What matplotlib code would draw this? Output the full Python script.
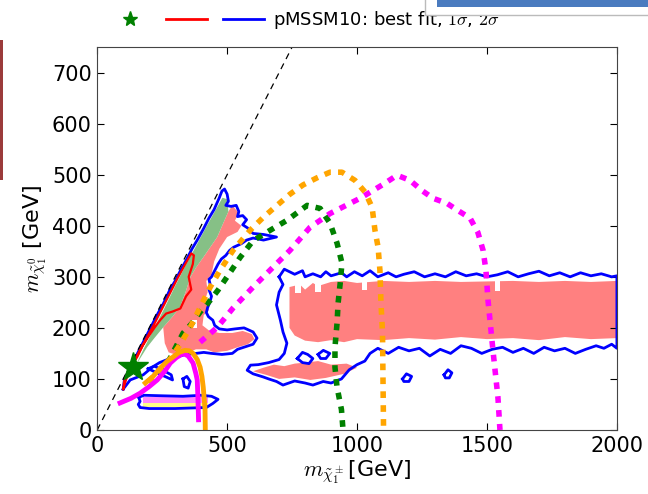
import matplotlib
matplotlib.use("Agg")
import matplotlib.pyplot as plt
from matplotlib.lines import Line2D
from matplotlib.patches import Rectangle

plt.rcParams['mathtext.fontset'] = 'cm'

# --- contours (m_chargino, m_neutralino) in GeV ---

# 2 sigma contour along the diagonal
blue_diag_x = [100, 105, 125, 140, 160, 185, 205, 230, 255, 280, 300, 320, 345, 365, 385, 410, 430, 450, 470, 480,
               490, 500, 505, 495, 515, 535, 545, 540, 560, 575, 560, 578, 600, 640, 690, 640, 600, 575, 555, 525,
               510, 495, 478, 465, 455, 440, 430, 435, 430, 440, 432, 425, 420, 428, 445, 452, 470, 500, 530, 565,
               600, 615, 600, 570, 540, 520, 480, 440, 410, 380, 340, 300, 270, 240, 212, 177, 127, 100]
blue_diag_y = [80, 100, 120, 135, 155, 180, 200, 225, 248, 275, 292, 312, 335, 355, 372, 395, 415, 432, 455, 468,
               472, 462, 448, 440, 438, 440, 428, 418, 420, 412, 402, 396, 385, 383, 378, 372, 376, 372, 365, 358,
               352, 342, 335, 325, 315, 300, 295, 285, 275, 262, 248, 240, 230, 222, 215, 205, 198, 196, 198, 200,
               192, 180, 168, 163, 158, 150, 148, 150, 152, 150, 148, 142, 138, 132, 123, 108, 98, 80]

# 1 sigma contour
red_x = [100, 112, 130, 160, 190, 220, 250, 280, 310, 340, 362, 372, 368, 352, 362, 342, 320, 290, 265, 242,
         220, 196, 175, 154, 130, 115, 104, 100]
red_y = [80, 100, 122, 152, 180, 208, 238, 268, 298, 326, 346, 342, 325, 300, 275, 262, 238, 232, 228, 215,
         200, 182, 165, 143, 125, 111, 96, 80]

# 1 sigma filled band
green_x = [112, 140, 180, 220, 260, 300, 340, 380, 420, 460, 482, 500, 505, 485, 462, 435, 408, 380, 358, 340,
           319, 290, 254, 220, 192, 165, 138, 120, 112]
green_y = [85, 118, 160, 200, 240, 282, 322, 360, 398, 435, 455, 452, 428, 405, 378, 358, 338, 318, 299, 270,
           241, 222, 201, 180, 162, 140, 117, 95, 85]

# 2 sigma filled region next to the diagonal
pink_diag_x = [520, 545, 530, 555, 540, 500, 470, 450, 440, 420, 425, 415, 430, 410, 405, 430, 470, 520, 560,
               595, 605, 580, 540, 500, 450, 420, 380, 340, 300, 275, 260, 254, 290, 319, 340, 358, 380, 408, 435,
               462, 485, 505]
pink_diag_y = [440, 425, 410, 400, 388, 378, 355, 330, 305, 292, 270, 255, 235, 225, 205, 195, 190, 190, 194,
               188, 178, 168, 162, 155, 152, 158, 158, 150, 148, 152, 170, 201, 222, 241, 270, 299, 318, 338, 358,
               378, 405, 428]

# white gaps inside the pink area
hole_x = [[455, 480, 480, 455], [360, 385, 385, 360], [540, 565, 565, 540]]
hole_y = [[240, 240, 262, 262], [200, 200, 215, 215], [350, 350, 368, 368]]

# 2 sigma band at high chargino mass
blue_band_x = [700, 720, 760, 790, 800, 830, 860, 880, 900, 940, 960, 990, 1020, 1050, 1080, 1120, 1150, 1180,
               1220, 1260, 1300, 1340, 1380, 1420, 1460, 1500, 1540, 1580, 1620, 1660, 1700, 1740, 1780, 1820,
               1860, 1900, 1940, 1980, 2000, 2000, 1980, 1950, 1920, 1880, 1840, 1800, 1760, 1720, 1680, 1640,
               1600, 1560, 1520, 1480, 1440, 1400, 1360, 1320, 1280, 1240, 1200, 1160, 1120, 1080, 1050, 1030,
               1000, 970, 940, 900, 870, 830, 800, 760, 715, 690, 660, 638, 600, 577, 590, 620, 660, 700, 720,
               730, 715, 705, 690, 700, 715, 700]
blue_band_y = [300, 315, 305, 312, 300, 306, 300, 310, 302, 308, 300, 310, 302, 312, 300, 308, 300, 305,
               310, 300, 306, 300, 310, 302, 306, 300, 304, 310, 300, 306, 311, 302, 308, 300,
               308, 302, 306, 300, 302, 160, 168, 160, 165, 158, 150, 160, 155, 162, 150, 160,
               152, 162, 158, 150, 160, 165, 150, 158, 145, 160, 155, 162, 150, 160, 150, 135,
               128, 118, 100, 92, 95, 88, 92, 96, 88, 95, 100, 104, 110, 117, 127, 128, 132, 138, 150,
               170, 192, 215, 245, 270, 285, 300]

pink_band_x = [740, 780, 800, 830, 850, 900, 950, 1000, 1100, 1200, 1300, 1400, 1500, 1600, 1700, 1800, 1900,
               2000, 2000, 1900, 1800, 1700, 1600, 1500, 1400, 1300, 1200, 1100, 1000, 950, 900, 850, 800, 760, 740]
pink_band_y = [280, 285, 275, 288, 282, 290, 292, 288, 292, 290, 292, 290, 291, 292, 290, 292, 290,
               292, 180, 178, 182, 176, 180, 178, 182, 177, 180, 176, 178, 172, 176, 172, 175, 185, 200]

# white notches along the top of the band
notch_x = [[760, 785, 785, 760], [840, 860, 860, 840], [1020, 1040, 1040, 1020], [1530, 1550, 1550, 1530]]
notch_y = [[268, 268, 292, 292], [270, 270, 292, 292], [275, 275, 292, 292], [272, 272, 292, 292]]

pink_low_x = [600, 650, 700, 760, 820, 880, 950, 1000, 960, 900, 850, 800, 760, 720, 680, 640, 600]
pink_low_y = [115, 108, 100, 103, 98, 102, 110, 122, 130, 128, 135, 132, 130, 125, 128, 122, 115]

# small 2 sigma islands
islands = [
    ([196, 230, 260, 290, 285, 250, 220, 196], [120, 112, 105, 98, 108, 118, 125, 120]),
    ([330, 345, 358, 350, 335, 330], [100, 105, 95, 82, 85, 100]),
    ([770, 790, 810, 830, 815, 790, 770], [140, 152, 148, 140, 130, 132, 140]),
    ([850, 870, 895, 880, 860, 850], [148, 156, 150, 140, 140, 148]),
    ([1175, 1190, 1210, 1200, 1180, 1175], [100, 110, 105, 95, 95, 100]),
    ([1335, 1350, 1365, 1355, 1340, 1335], [108, 118, 112, 102, 102, 108]),
]

# low-mass strip
strip_x = [160, 180, 250, 330, 400, 440, 465, 445, 420, 300, 200, 165, 158, 165, 160]
strip_y = [64, 68, 67, 66, 68, 66, 60, 52, 44, 42, 42, 44, 50, 56, 64]
strip_pink_x = [178, 425, 425, 178]
strip_pink_y = [53, 53, 64, 64]
strip_yel_x = [178, 425, 425, 178]
strip_yel_y = [45, 45, 53, 53]

# exclusion curves
green_dot_x = [235, 273, 300, 331, 365, 396, 435, 465, 504, 550, 600, 665, 731, 808, 858, 896, 923, 942, 935,
               927, 923, 915, 915, 923, 940, 946]
green_dot_y = [113, 133, 160, 190, 209, 231, 254, 274, 303, 338, 371, 391, 411, 440, 434, 405, 366, 327, 287,
               248, 209, 162, 123, 84, 40, 0]
orange_dot_x = [196, 231, 273, 312, 358, 396, 435, 473, 523, 590, 640, 692, 742, 792, 846, 896, 942, 992, 1031,
                1058, 1069, 1081, 1088, 1092, 1098, 1100, 1102]
orange_dot_y = [94, 112, 133, 162, 201, 240, 280, 313, 352, 392, 417, 440, 462, 480, 494, 505, 505, 489, 466,
                436, 391, 358, 313, 250, 190, 92, 0]
magenta_dot_x = [396, 462, 523, 600, 665, 742, 819, 896, 1012, 1100, 1154, 1204, 1250, 1292, 1346, 1388, 1435,
                 1465, 1485, 1496, 1504, 1523, 1542, 1550]
magenta_dot_y = [172, 201, 239, 280, 313, 352, 397, 424, 454, 481, 499, 489, 469, 454, 444, 430, 415,
                 387, 352, 313, 254, 156, 65, 0]
magenta_x = [88, 130, 165, 200, 231, 260, 281, 305, 331, 350, 369, 380, 385, 388, 390]
magenta_y = [53, 62, 72, 85, 98, 115, 131, 142, 150, 145, 131, 110, 98, 59, 20]
orange_x = [185, 215, 242, 270, 292, 315, 338, 355, 369, 385, 396, 403, 408, 412, 415, 416]
orange_y = [92, 105, 121, 135, 143, 152, 156, 155, 150, 138, 123, 105, 84, 60, 39, 0]

diag = [0, 750]
best_fit = (138, 123)

PINK = '#ff8080'
GREEN = '#86c086'

fig = plt.figure(figsize=(6.48, 4.94), dpi=100)
ax = fig.add_axes([0.150, 0.1296, 0.802, 0.775])

ax.fill(pink_band_x, pink_band_y, color=PINK, lw=0)
for hx, hy in zip(notch_x, notch_y):
    ax.fill(hx, hy, color='white', lw=0)
ax.fill(pink_low_x, pink_low_y, color=PINK, lw=0)
ax.fill(pink_diag_x, pink_diag_y, color=PINK, lw=0)
for hx, hy in zip(hole_x, hole_y):
    ax.fill(hx, hy, color='white', lw=0)
ax.fill(green_x, green_y, color=GREEN, lw=0)
ax.fill(strip_pink_x, strip_pink_y, color='#ff88ff', lw=0)
ax.fill(strip_yel_x, strip_yel_y, color='#ffff88', lw=0)

ax.plot(blue_diag_x, blue_diag_y, color='blue', lw=2)
ax.plot(blue_band_x, blue_band_y, color='blue', lw=2)
for ix, iy in islands:
    ax.plot(ix, iy, color='blue', lw=2)
ax.plot(strip_x, strip_y, color='blue', lw=2)
ax.plot(red_x, red_y, color='red', lw=1.6)

ax.plot(diag, diag, color='black', lw=0.9, ls=(0, (5, 4)))

ax.plot(green_dot_x, green_dot_y, color='green', lw=4, ls=(0, (1.2, 1.3)))
ax.plot(orange_dot_x, orange_dot_y, color='orange', lw=4, ls=(0, (1.2, 1.3)))
ax.plot(magenta_dot_x, magenta_dot_y, color='magenta', lw=4, ls=(0, (1.2, 1.3)))
ax.plot(magenta_x, magenta_y, color='magenta', lw=3.5)
ax.plot(orange_x, orange_y, color='orange', lw=3.5)

ax.plot(*best_fit, marker='*', color='green', markersize=22, ls='none')

ax.set_xlim(0, 2000)
ax.set_ylim(0, 750)
ax.set_xticks([0, 500, 1000, 1500, 2000])
ax.set_yticks([0, 100, 200, 300, 400, 500, 600, 700])
ax.tick_params(direction='in', top=True, right=True, labelsize=15, length=5, pad=4)
for s in ax.spines.values():
    s.set_color('#444444')
ax.set_xlabel(r'$m_{\tilde{\chi}_1^\pm}$[GeV]', fontsize=16, labelpad=2)
ax.set_ylabel(r'$m_{\tilde{\chi}_1^0}$ [GeV]', fontsize=16, labelpad=2)

handles = [Line2D([], [], marker='*', color='green', ls='none', markersize=11),
           Line2D([], [], color='red', lw=2),
           Line2D([], [], color='blue', lw=2)]
labels = ['', '', r'pMSSM10: best fit, $1\sigma$, $2\sigma$']
fig.legend(handles, labels, ncol=3, frameon=False, fontsize=13, loc='center left',
           bbox_to_anchor=(0.143, 1 - 20 / 494), handlelength=2.3, columnspacing=0.35, handletextpad=0.5)

# screenshot leftovers around the figure
fig.patches.append(Rectangle((425 / 648, 1 - 15 / 494), 0.4, 0.05, transform=fig.transFigure,
                             facecolor='white', edgecolor='#bbbbbb', lw=1, zorder=10))
fig.patches.append(Rectangle((437 / 648, 1 - 7 / 494), 0.4, 0.02, transform=fig.transFigure,
                             facecolor='#4a7bbf', edgecolor='none', zorder=11))
fig.patches.append(Rectangle((0, 1 - 180 / 494), 3 / 648, 140 / 494, transform=fig.transFigure,
                             facecolor='#9b3b3b', edgecolor='none', zorder=11))

fig.savefig('out.png', dpi=100)
